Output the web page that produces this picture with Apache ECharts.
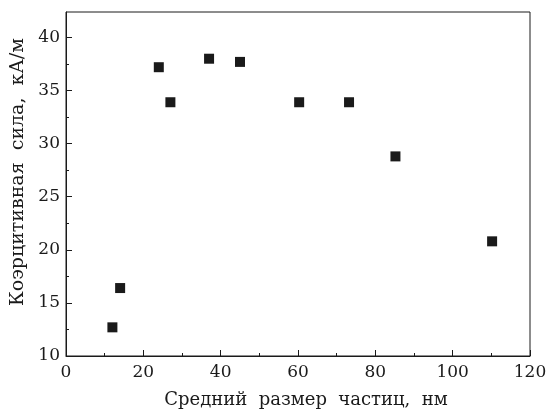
<!DOCTYPE html>
<html>
<head>
<meta charset="utf-8">
<script src="https://cdn.jsdelivr.net/npm/echarts@6/dist/echarts.min.js"></script>
<style>
  html, body { margin: 0; padding: 0; background: #fff; }
  #chart { width: 553px; height: 414px; }
</style>
</head>
<body>
<div id="chart"></div>
<script>
// particle size, nm
const sizes = [12, 14, 24, 27, 37, 45, 60.3, 73.2, 85.2, 110.2]
// coercive force, kA/m
const coercivity = [12.7, 16.4, 37.2, 33.9, 38.0, 37.7, 33.9, 33.9, 28.8, 20.8]

const xTitle = 'Средний  размер  частиц,  нм'
const yTitle = 'Коэрцитивная  сила,  кА/м'

const font = '"DejaVu Serif", "Liberation Serif", serif'
const ink = '#1a1a1a'

const chart = echarts.init(document.getElementById('chart'))

chart.setOption({
  animation: false,
  grid: {
    left: 66,
    top: 12,
    right: 23,
    bottom: 58,
    outerBoundsMode: 'none',
    containLabel: false,
    show: true,
    borderColor: ink,
    borderWidth: 1
  },
  xAxis: {
    type: 'value',
    min: 0,
    max: 120,
    interval: 20,
    name: xTitle,
    nameLocation: 'middle',
    nameGap: 35,
    nameTextStyle: { fontFamily: font, fontSize: 18, color: ink, padding: [0, 0, 0, 16] },
    axisLine: { lineStyle: { color: ink, width: 1 } },
    axisTick: { inside: true, length: 6, lineStyle: { color: ink } },
    minorTick: { show: true, splitNumber: 2, length: 3, lineStyle: { color: ink } },
    axisLabel: { fontFamily: font, fontSize: 17, color: ink, margin: 8 },
    splitLine: { show: false }
  },
  yAxis: {
    type: 'value',
    min: 10,
    max: 42.4,
    interval: 5,
    name: yTitle,
    nameLocation: 'middle',
    nameGap: 36,
    nameTextStyle: { fontFamily: font, fontSize: 19, color: ink, padding: [0, 0, 0, 24] },
    axisLine: { show: true, lineStyle: { color: ink, width: 1 } },
    axisTick: {
      inside: true, length: 6, lineStyle: { color: ink },
      customValues: [10, 15, 20, 25, 30, 35, 40]
    },
    minorTick: { show: true, splitNumber: 2, length: 3, lineStyle: { color: ink } },
    axisLabel: {
      fontFamily: font, fontSize: 17, color: ink, margin: 6,
      showMaxLabel: false
    },
    splitLine: { show: false }
  },
  series: [{
    type: 'scatter',
    data: sizes.map((x, i) => [x, coercivity[i]]),
    symbol: 'rect',
    symbolSize: 10,
    itemStyle: { color: ink, opacity: 1 }
  }]
})
</script>
</body>
</html>
